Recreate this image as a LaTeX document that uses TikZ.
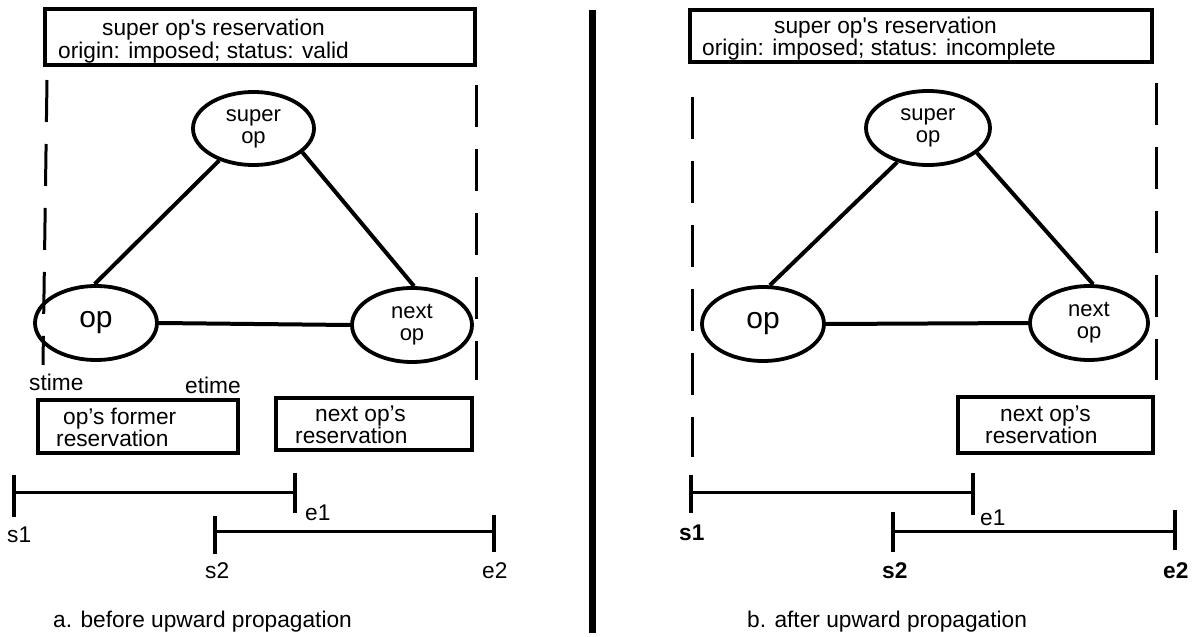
\documentclass[tikz,border=0pt]{standalone}
\usepackage{fontspec}
\setmainfont{Liberation Sans}
\usetikzlibrary{shapes.geometric}
\newcommand{\tworows}[5]{\vtop{\baselineskip=#5\lineskiplimit=-100pt\lineskip=0pt
  \hbox{\hskip#1\relax #2}\hbox{\hskip#3\relax #4}}}
\tikzset{
  ell/.style={draw, ellipse, line width=3.8pt, inner sep=0pt, align=center,
              font=\fontsize{22}{22}\selectfont},
  bigtxt/.style={font=\fontsize{30}{32}\selectfont},
  boxnode/.style={draw, rectangle, line width=3.5pt, inner sep=0pt},
  txt/.style={anchor=base west, inner sep=0pt, font=\fontsize{22.7}{24}\selectfont},
  btxt/.style={txt, font=\fontsize{22.7}{24}\selectfont\bfseries},
  edgeline/.style={line width=4pt},
  dashline/.style={line width=3pt, dash pattern=on 42pt off 22pt},
  tlline/.style={line width=3pt},
  tickline/.style={line width=4pt},
}
\begin{document}
\begin{tikzpicture}[x=1pt,y=-1pt]
\useasboundingbox (0,0) rectangle (1195,637);

% ---------- panel a ----------
\node[boxnode, minimum width=430pt, minimum height=56pt] (hdrA) at (260,37) {};
\node[txt] (hA) at (58,35) {\tworows{44pt}{super op\textquotesingle s reservation}{0pt}{origin: imposed; status: valid}{23pt}};

\draw[dashline] (47,80) -- (43,365);
\draw[dashline] (476,85) -- (476,380);

\node[ell, minimum width=121pt, minimum height=73pt] (supA) at (253.5,128.5) {super\\op};
\node[ell, minimum width=122pt, minimum height=74pt, bigtxt] (opA) at (96,323) {op};
\node[ell, minimum width=120pt, minimum height=74pt] (nextA) at (412,325) {next\\op};

\draw[edgeline] (supA.223) -- (opA.92);
\draw[edgeline] (supA.334) -- (nextA.87);
\draw[edgeline] (opA.east) -- (nextA.west);

\node[txt] (stime) at (29,390) {stime};
\node[txt] (etime) at (185,393) {etime};

\node[boxnode, minimum width=200pt, minimum height=53pt] (formerA) at (138,426.5) {};
\node[txt] (fA) at (56,424) {\tworows{7pt}{op's former}{0pt}{reservation}{22.5pt}};

\node[boxnode, minimum width=196pt, minimum height=52pt] (nresA) at (374,424) {};
\node[txt] (nA) at (295,421) {\tworows{20pt}{next op's}{0pt}{reservation}{22.5pt}};

\coordinate (s1A) at (14,492);
\coordinate (e1A) at (295,492);
\coordinate (s2A) at (215,531);
\coordinate (e2A) at (494,531);
\draw[tlline] (s1A) -- (e1A);
\draw[tlline] (s2A) -- (e2A);
\draw[tickline] (s1A) ++(0,-17) -- ++(0,42);
\draw[tickline] (e1A) ++(0,-19) -- ++(0,40);
\draw[tickline] (s2A) ++(0,-15) -- ++(0,38);
\draw[tickline] (e2A) ++(0,-16) -- ++(0,37);
\node[txt] (ls1A) at (7,542) {s1};
\node[txt] (le1A) at (305,520) {e1};
\node[txt] (ls2A) at (205,578) {s2};
\node[txt] (le2A) at (482,578) {e2};

\node[txt] (capA) at (53,627) {a. before upward propagation};

% ---------- divider ----------
\draw[line width=7pt] (592,10) -- (592,633);

% ---------- panel b ----------
\node[boxnode, minimum width=462pt, minimum height=52pt] (hdrB) at (921,36) {};
\node[txt] (hB) at (702,33) {\tworows{72pt}{super op\textquotesingle s reservation}{0pt}{origin: imposed; status: incomplete}{22.5pt}};

\draw[dashline] (692,97) -- (692,457);
\draw[dashline] (1156,83) -- (1156,380);

\node[ell, minimum width=124pt, minimum height=74pt] (supB) at (928,128) {super\\op};
\node[ell, minimum width=122pt, minimum height=74pt, bigtxt] (opB) at (763,324) {op};
\node[ell, minimum width=118pt, minimum height=74pt] (nextB) at (1089,323) {next\\op};

\draw[edgeline] (supB.228) -- (opB.80);
\draw[edgeline] (supB.333) -- (nextB.84);
\draw[edgeline] (opB.east) -- (nextB.west);

\node[boxnode, minimum width=195pt, minimum height=56pt] (nresB) at (1055.5,425) {};
\node[txt] (nB) at (985,421) {\tworows{15pt}{next op's}{0pt}{reservation}{22.5pt}};

\coordinate (s1B) at (691,492);
\coordinate (e1B) at (973,492);
\coordinate (s2B) at (893,531);
\coordinate (e2B) at (1175,531);
\draw[tlline] (s1B) -- (e1B);
\draw[tlline] (s2B) -- (e2B);
\draw[tickline] (s1B) ++(0,-17) -- ++(0,38);
\draw[tickline] (e1B) ++(0,-19) -- ++(0,42);
\draw[tickline] (s2B) ++(0,-19) -- ++(0,40);
\draw[tickline] (e2B) ++(0,-21) -- ++(0,40);
\node[btxt] (ls1B) at (679,540) {s1};
\node[txt] (le1B) at (980,525) {e1};
\node[btxt] (ls2B) at (882,578) {s2};
\node[btxt] (le2B) at (1163,578) {e2};

\node[txt] (capB) at (747,627) {b. after upward propagation};
\end{tikzpicture}
\end{document}
